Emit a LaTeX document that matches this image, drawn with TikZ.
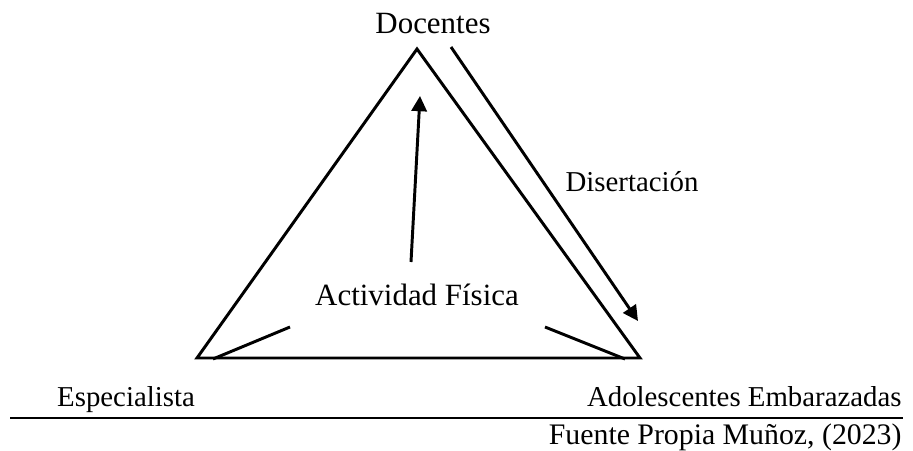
\documentclass[tikz,border=0pt]{standalone}
\usepackage{fontspec}
\setmainfont{Liberation Serif}
\usetikzlibrary{arrows.meta}

\tikzset{
  lbl/.style={inner sep=0pt, anchor=base, font=\fontsize{22}{26}\selectfont},
  smalllbl/.style={inner sep=0pt, anchor=base, font=\fontsize{20.5}{24}\selectfont},
}

\begin{document}
\begin{tikzpicture}[line width=2.1pt, >={Triangle[length=0.38cm,width=0.38cm]}]
    \useasboundingbox (0,0) rectangle (22.825,11.25);

    % Triangle corners
    \coordinate (top) at (10.425,10.025);
    \coordinate (left) at (4.925,2.3);
    \coordinate (right) at (16.0,2.3);
    \draw[line join=miter] (top) -- (left) -- (right) -- cycle;

    % Labels
    \node[lbl] (docentes) at (10.825,10.4) {Docentes};
    \node[lbl] (actividad) at (10.425,3.6) {Actividad Física};
    \node[smalllbl] (disertacion) at (15.8,6.45) {Disertación};
    \node[smalllbl] (especialista) at (3.15,1.1) {Especialista};
    \node[smalllbl, anchor=base east] (adolescentes) at (22.575,1.1) {Adolescentes Embarazadas};
    \node[smalllbl, anchor=base east, font=\fontsize{21.2}{25}\selectfont] (fuente) at (22.575,0.15) {Fuente Propia Muñoz, (2023)};

    % Arrow up to Docentes
    \coordinate (upfrom) at (10.275,4.7);
    \coordinate (upto) at (10.5,8.85);
    \draw[->] (upfrom) -- (upto);

    % Arrow down beside the right side
    \coordinate (disfrom) at (11.275,10.075);
    \coordinate (disto) at (15.95,3.225);
    \draw[->] (disfrom) -- (disto);

    % Short lines from the bottom corners
    \coordinate (lfrom) at (5.325,2.275);
    \coordinate (lto) at (7.25,3.075);
    \draw (lfrom) -- (lto);
    \coordinate (rfrom) at (13.625,3.075);
    \coordinate (rto) at (15.625,2.275);
    \draw (rfrom) -- (rto);

    % Rule under the names
    \coordinate (rulefrom) at (0.25,0.8);
    \coordinate (ruleto) at (22.575,0.8);
    \draw[line width=1.4pt] (rulefrom) -- (ruleto);
\end{tikzpicture}
\end{document}
